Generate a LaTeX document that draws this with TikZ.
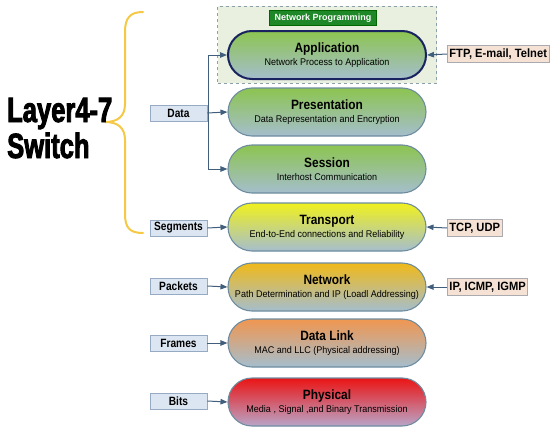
\documentclass[tikz,border=0pt]{standalone}
\usepackage{fontspec}
\setmainfont{Liberation Sans}
\newfontfamily\titlefont{Liberation Sans}[FakeStretch=0.88]
\newfontfamily\subfont{Liberation Sans}[FakeStretch=0.93]
\newfontfamily\labfont{Liberation Sans}[FakeStretch=0.85]
\newfontfamily\rlabfont{Liberation Sans}[FakeStretch=0.93]
\newfontfamily\bigfont{Liberation Sans}[FakeStretch=0.73,FakeBold=2.5]
\usetikzlibrary{arrows.meta}
\definecolor{bordc}{RGB}{110,140,160}
\definecolor{navy}{RGB}{25,35,95}
\definecolor{bluegr}{RGB}{165,190,205}
\definecolor{grn}{RGB}{140,196,80}
\definecolor{yel}{RGB}{240,240,30}
\definecolor{ora}{RGB}{240,185,25}
\definecolor{orl}{RGB}{240,150,80}
\definecolor{redc}{RGB}{235,20,20}
\definecolor{lav}{RGB}{185,165,200}
\definecolor{arrc}{RGB}{65,95,125}
\definecolor{labfill}{RGB}{220,230,242}
\definecolor{labbord}{RGB}{150,170,195}
\definecolor{peach}{RGB}{245,226,212}
\definecolor{peachb}{RGB}{170,170,175}
\definecolor{dashfill}{RGB}{234,240,224}
\definecolor{dashb}{RGB}{140,160,170}
\definecolor{npgreen}{RGB}{30,135,40}
\definecolor{brace}{RGB}{245,200,70}
\tikzset{
  layer/.style={draw=bordc, line width=1.1pt, minimum width=198pt, minimum height=48pt,
    rounded corners=24pt, align=center, inner sep=0pt, font=\titlefont},
  lshade/.style={top color=#1, middle color=#1!75!bluegr, bottom color=bluegr},
  leftlab/.style={draw=labbord, fill=labfill, line width=0.8pt, minimum width=57pt,
    minimum height=16pt, inner sep=0pt, font=\labfont\bfseries\fontsize{12}{12}\selectfont},
  rightlab/.style={draw=peachb, fill=peach, line width=0.8pt, minimum height=17pt,
    inner xsep=2pt, inner ysep=0pt, font=\rlabfont\bfseries\fontsize{12}{12}\selectfont},
  conn/.style={draw=arrc, line width=1pt, -{Triangle[length=7pt,width=5.5pt]}},
  plainconn/.style={draw=arrc, line width=1pt},
  bigtext/.style={anchor=base west, inner sep=0pt, text depth=0pt, font=\bigfont\bfseries\fontsize{35}{35}\selectfont}
}
\newcommand{\ttl}[1]{{\bfseries\fontsize{13.5}{15}\selectfont #1}}
\newcommand{\sub}[1]{{\subfont\fontsize{9.7}{11}\selectfont #1}}
\begin{document}
\begin{tikzpicture}[x=1pt,y=-1pt]
\useasboundingbox (0,0) rectangle (555,431);
% dashed area
\node[draw=dashb, dashed, fill=dashfill, line width=0.8pt, minimum width=219pt, minimum height=77pt, inner sep=0pt] (np) at (327,44.5) {};
\node[fill=npgreen, draw=green!40!black, minimum width=107pt, minimum height=15pt, inner sep=0pt,
  text=white, font=\bfseries\fontsize{9}{9}\selectfont] (nplab) at (323,18) {Network Programming};
% layers
\node[layer, lshade=grn, draw=navy, line width=2pt] (app) at (327,55) {\ttl{Application}\\[1pt]\sub{Network Process to Application}};
\node[layer, lshade=grn] (pres) at (327,112) {\ttl{Presentation}\\[1pt]\sub{Data Representation and Encryption}};
\node[layer, lshade=grn] (sess) at (327,169) {\ttl{Session}\\[1pt]\sub{Interhost Communication}};
\node[layer, lshade=yel] (trans) at (327,227) {\ttl{Transport}\\[1pt]\sub{End-to-End connections and Reliability}};
\node[layer, lshade=ora] (net) at (327,287) {\ttl{Network}\\[1pt]\sub{Path Determination and IP (Loadl Addressing)}};
\node[layer, lshade=orl] (dl) at (327,343) {\ttl{Data Link}\\[1pt]\sub{MAC and LLC (Physical addressing)}};
\node[layer, top color=redc, middle color=redc!80!lav, bottom color=lav] (phy) at (327,402) {\ttl{Physical}\\[1pt]\sub{Media , Signal ,and Binary Transmission}};
% left labels
\node[leftlab] (data) at (178.5,113) {Data};
\node[leftlab] (seg) at (178.5,228) {Segments};
\node[leftlab] (pack) at (178.5,286) {Packets};
\node[leftlab] (fram) at (178.5,343) {Frames};
\node[leftlab] (bits) at (178.5,401) {Bits};
% right labels
\node[rightlab, anchor=west] (ftp) at (447,54) {FTP, E-mail, Telnet};
\node[rightlab, anchor=west] (tcp) at (447,228) {TCP, UDP};
\node[rightlab, anchor=west] (ip) at (447,287) {IP, ICMP, IGMP};
% data arrows
\coordinate (dtop) at (208,55);
\coordinate (dbot) at (208,169);
\draw[plainconn] (dtop) -- (dbot);
\draw[conn] (dtop) -- (app.west);
\draw[conn] (data.east) -- (pres.west);
\draw[conn] (dbot) -- (sess.west);
\draw[conn] (seg.east) -- (trans.west);
\draw[conn] (pack.east) -- (net.west);
\draw[conn] (fram.east) -- (dl.west);
\draw[conn] (bits.east) -- (phy.west);
\draw[conn] (ftp.west) -- (app.east);
\draw[conn] (tcp.west) -- (trans.east);
\draw[conn] (ip.west) -- (net.east);
% brace
\draw[brace, line width=2pt, line cap=round]
  (143,12) .. controls (130,12) and (125,18) .. (125,32) -- (125,104)
  .. controls (125,117) and (117,122) .. (105,122)
  .. controls (117,122) and (125,127) .. (125,140) -- (125,214)
  .. controls (125,228) and (130,233) .. (143,233);
% big text
\node[bigtext] (l47) at (7,122) {Layer4-7};
\node[bigtext] (sw) at (7,158) {Switch};
\end{tikzpicture}
\end{document}
